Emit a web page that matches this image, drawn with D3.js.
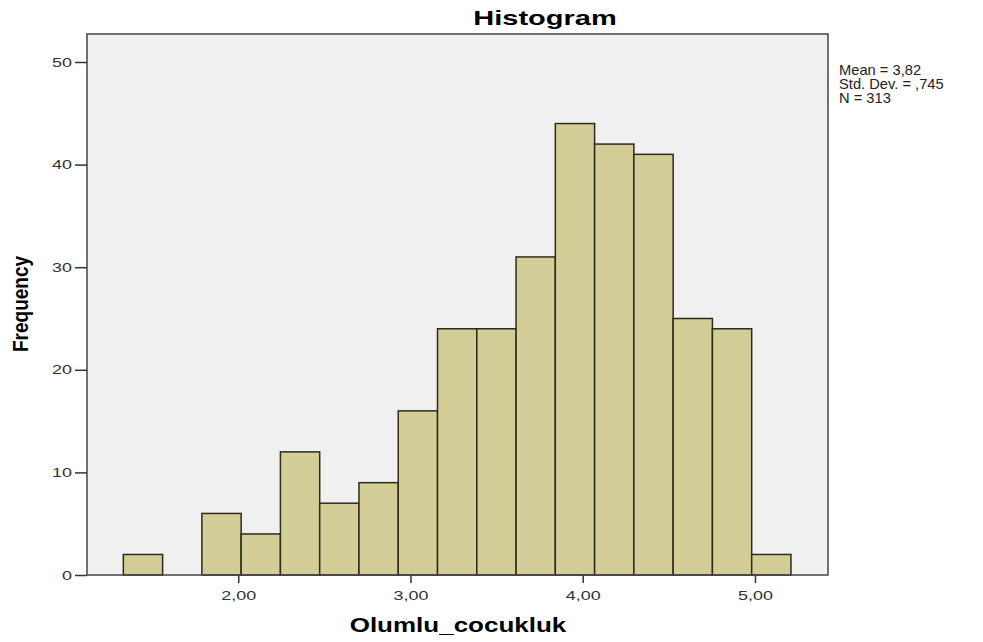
<!DOCTYPE html>
<html>
<head>
<meta charset="utf-8">
<script src="https://cdn.jsdelivr.net/npm/d3@7"></script>
<style>
  body { margin: 0; background: #fff; }
  text { font-family: "Liberation Sans", Arial, sans-serif; }
</style>
</head>
<body>
<svg id="chart" width="983" height="642"></svg>
<script>
// histogram bins
var binStart = 1.333;
var binWidth = 0.228;
var counts = [2, 0, 6, 4, 12, 7, 9, 16, 24, 24, 31, 44, 42, 41, 25, 24, 2];
var xTicks = [2, 3, 4, 5];
var yTicks = [0, 10, 20, 30, 40, 50];
var statLines = ['Mean = 3,82', 'Std. Dev. = ,745', 'N = 313'];

var svg = d3.select('#chart');
var margin = {left: 87, top: 34, right: 828, bottom: 575};
var stretch = 1.38; // the source picture is a bit wider than tall

var x = d3.scaleLinear().domain([1.122, 5.424]).range([margin.left, margin.right]);
var y = d3.scaleLinear().domain([0, 50]).range([margin.bottom, 62]);

var bins = counts.map((c, i) => ({x0: binStart + i * binWidth, x1: binStart + (i + 1) * binWidth, n: c}));

// plot background
svg.append('rect')
    .attr('x', margin.left).attr('y', margin.top)
    .attr('width', margin.right - margin.left)
    .attr('height', margin.bottom - margin.top)
    .style('fill', '#f0f0f0');

// bars
svg.selectAll('.bar')
    .data(bins.filter(d => d.n > 0))
    .enter().append('rect')
    .attr('class', 'bar')
    .attr('x', d => x(d.x0))
    .attr('y', d => y(d.n))
    .attr('width', d => x(d.x1) - x(d.x0))
    .attr('height', d => y(0) - y(d.n))
    .style('fill', '#d3ce97')
    .style('stroke', '#2e2a1e')
    .style('stroke-width', 1.5);

// frame
svg.append('rect')
    .attr('x', margin.left).attr('y', margin.top)
    .attr('width', margin.right - margin.left)
    .attr('height', margin.bottom - margin.top)
    .style('fill', 'none')
    .style('stroke', '#444')
    .style('stroke-width', 1.5);

// y axis
var yAxis = svg.append('g')
    .attr('transform', `translate(${margin.left},0)`)
    .call(d3.axisLeft(y).tickValues(yTicks).tickSize(12).tickPadding(3).tickFormat(d3.format('d')));
yAxis.select('.domain').remove();
yAxis.selectAll('line').style('stroke', '#333').style('stroke-width', 1.5);
yAxis.selectAll('text')
    .attr('x', 0)
    .attr('transform', `translate(-15,0) scale(${stretch},1)`)
    .style('font-size', '13px').style('fill', '#333')
    .style('font-family', '"Liberation Sans", Arial, sans-serif');

// x axis
var xAxis = svg.append('g')
    .attr('transform', `translate(0,${margin.bottom})`)
    .call(d3.axisBottom(x).tickValues(xTicks).tickSize(8).tickPadding(8)
        .tickFormat(d => d3.format('.2f')(d).replace('.', ',')));
xAxis.select('.domain').remove();
xAxis.selectAll('line').style('stroke', '#333').style('stroke-width', 1.5);
xAxis.selectAll('text')
    .attr('transform', `scale(${stretch},1)`)
    .style('font-size', '13px').style('fill', '#333')
    .style('font-family', '"Liberation Sans", Arial, sans-serif');

// title
svg.append('text')
    .attr('transform', `translate(545,25) scale(${stretch},1)`)
    .attr('text-anchor', 'middle')
    .style('font-size', '21px').style('font-weight', 'bold')
    .text('Histogram');

// axis titles
svg.append('text')
    .attr('transform', 'translate(458,632) scale(1.3,1)')
    .attr('text-anchor', 'middle')
    .style('font-size', '20px').style('font-weight', 'bold')
    .text('Olumlu_cocukluk');

svg.append('text')
    .attr('transform', 'translate(28,304) rotate(-90) scale(1,1.15)')
    .attr('text-anchor', 'middle')
    .style('font-size', '19px').style('font-weight', 'bold')
    .text('Frequency');

// stats box
svg.append('g')
    .selectAll('text')
    .data(statLines).enter()
    .append('text')
    .attr('transform', (d, i) => `translate(839,${75 + i * 14}) scale(1.05,1)`)
    .style('font-size', '14px').style('fill', '#222')
    .text(d => d);
</script>
</body>
</html>
